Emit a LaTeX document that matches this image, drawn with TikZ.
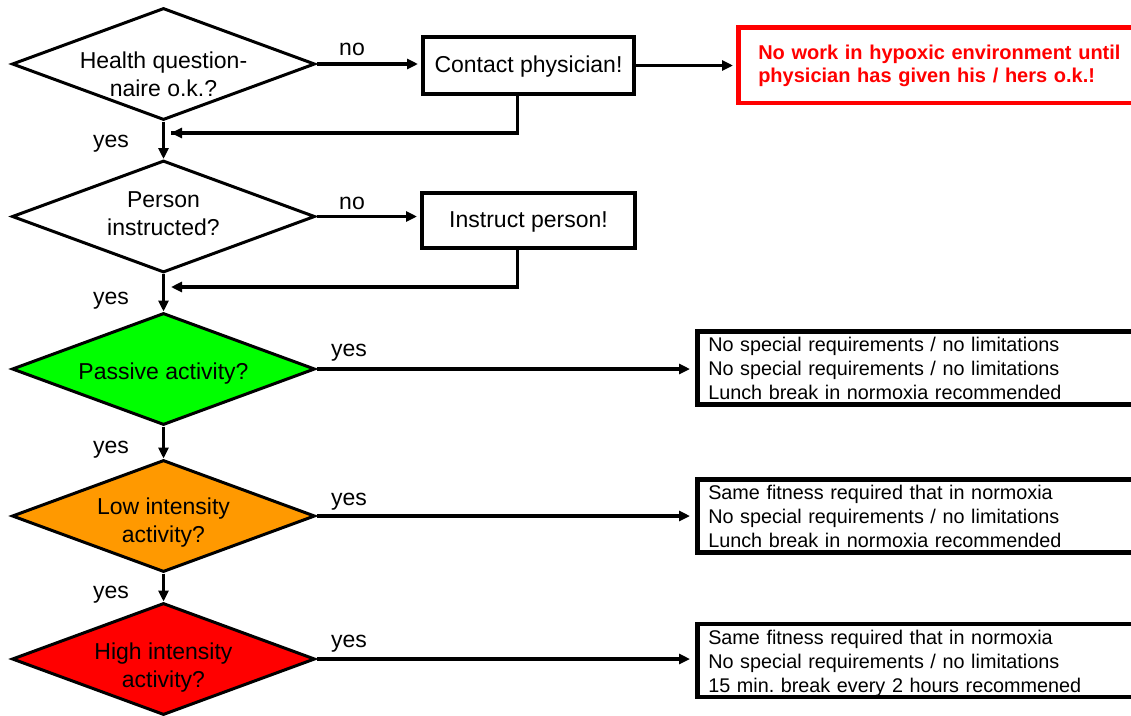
\documentclass[tikz,border=0pt]{standalone}
\usepackage{fontspec}
\setmainfont{Liberation Sans}
\usetikzlibrary{shapes.geometric,arrows.meta}
\definecolor{dgreen}{RGB}{0,255,0}
\definecolor{dorange}{RGB}{255,153,0}
\definecolor{dred}{RGB}{255,0,0}
\newcommand{\topstrut}{\rule{0pt}{20pt}}
\newcommand{\botstrut}{\rule[-5pt]{0pt}{5pt}}
\begin{document}
\begin{tikzpicture}[x=1pt,y=-1pt,
  dec/.style={diamond, draw=black, line width=3pt, minimum width=303pt, minimum height=112pt, inner sep=0pt, aspect=2.7},
  dtext/.style={font=\fontsize{23}{28}\selectfont, align=center, inner sep=0pt},
  act/.style={draw=black, line width=4pt, inner sep=0pt, text height=18pt, text depth=4pt, font=\fontsize{23}{28}\selectfont},
  info/.style={draw=black, line width=4.5pt, text width=420pt, inner xsep=11pt, inner ysep=0pt, align=left, font=\fontsize{19.8}{24}\selectfont, minimum height=73pt, anchor=west},
  warn/.style={draw=dred, text=dred, line width=4.5pt, text width=370pt, inner xsep=20pt, inner ysep=0pt, align=left, font=\fontsize{20}{23}\selectfont\bfseries, minimum height=75.5pt, anchor=west},
  conn/.style={line width=3.5pt, -{Triangle[length=11pt,width=10pt]}},
  lbl/.style={font=\fontsize{23}{28}\selectfont, inner sep=0pt}
]
\useasboundingbox (0,0) rectangle (1131,715);
\clip (0,0) rectangle (1131,715);

% decisions
\node[dec, fill=white, label={[dtext, yshift=-10pt]center:Health question-\\naire o.k.?}] (d1) at (163.5,64) {};
\node[dec, fill=white, label={[dtext, yshift=2.5pt]center:Person\\instructed?}] (d2) at (163.5,216.5) {};
\node[dec, fill=dgreen, label={[dtext, yshift=-5pt]center:Passive activity?}] (d3) at (163.5,369) {};
\node[dec, fill=dorange, label={[dtext, yshift=-7pt]center:Low intensity\\activity?}] (d4) at (163.5,516) {};
\node[dec, fill=dred, label={[dtext, yshift=-9pt]center:High intensity\\activity?}] (d5) at (163.5,659) {};

% actions
\node[act, minimum width=211pt, minimum height=57.5pt] (b1) at (528.5,65.5) {Contact physician!};
\node[act, minimum width=213pt, minimum height=55pt] (b2) at (528.5,220.5) {Instruct person!};
\node[warn] (r1) at (736,65) {\rule{0pt}{17pt}No work in hypoxic environment until\\physician has given his / hers o.k.!};

% info boxes
\node[info] (g1) at (695,368) {\topstrut No special requirements / no limitations\\No special requirements / no limitations\\Lunch break in normoxia recommended\botstrut};
\node[info] (g2) at (695,516) {\topstrut Same fitness required that in normoxia\\No special requirements / no limitations\\Lunch break in normoxia recommended\botstrut};
\node[info] (g3) at (695,660.5) {\topstrut Same fitness required that in normoxia\\No special requirements / no limitations\\15 min.\ break every 2 hours recommened\botstrut};

% connectors row 1
\draw[conn, shorten >=3pt] (d1.east) -- (d1.east -| b1.west);
\node[lbl] (n1) at (352,49.5) {no};
\draw[conn, shorten >=3pt] (b1.east) -- (b1.east -| r1.west);
\coordinate (f1) at (171,133);
\draw[line width=3.5pt] ([xshift=-11pt]b1.south) |- (f1);
\draw[conn] ([xshift=-11pt]b1.south |- f1) -- (f1);
\draw[conn] (d1.south) -- (d2.north);
\node[lbl] (y1) at (111,144) {yes};

% row 2
\draw[conn, shorten >=3pt] (d2.east) -- (d2.east -| b2.west);
\node[lbl] (n2) at (352,203) {no};
\coordinate (f2) at (171,287);
\draw[conn] ([xshift=-11pt]b2.south) |- (f2);
\draw[conn] (d2.south) -- (d3.north);
\node[lbl] (y2) at (111,301) {yes};

% row 3..5
\draw[conn, shorten >=5pt] (d3.east) -- (d3.east -| g1.west);
\node[lbl] (y3r) at (349,353) {yes};
\draw[conn] (d3.south) -- (d4.north);
\node[lbl] (y3) at (111,449.5) {yes};

\draw[conn, shorten >=5pt] (d4.east) -- (d4.east -| g2.west);
\node[lbl] (y4r) at (349,501.5) {yes};
\draw[conn] (d4.south) -- (d5.north);
\node[lbl] (y4) at (111,594.5) {yes};

\draw[conn, shorten >=5pt] (d5.east) -- (d5.east -| g3.west);
\node[lbl] (y5r) at (349,643.5) {yes};
\end{tikzpicture}
\end{document}
